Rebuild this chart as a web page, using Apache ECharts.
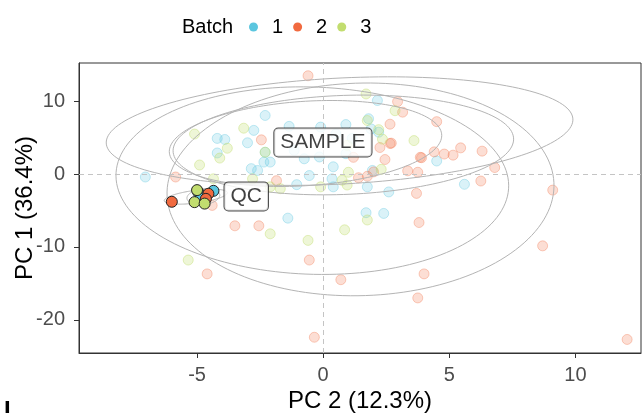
<!DOCTYPE html>
<html>
<head>
<meta charset="utf-8">
<script src="https://cdn.jsdelivr.net/npm/echarts@6/dist/echarts.min.js"></script>
<style>
html, body { margin: 0; padding: 0; background: #fff; }
#chart { width: 642px; height: 413px; }
</style>
</head>
<body>
<div id="chart"></div>
<script>
var batchNames = ['1', '2', '3'];
var batchColors = ['#5bc6df', '#f16a3f', '#c2dd6f'];
var sampleFill = ['rgba(91,198,223,0.28)', 'rgba(241,106,63,0.28)', 'rgba(194,221,111,0.35)'];
var sampleEdge = ['rgba(91,198,223,0.45)', 'rgba(241,106,63,0.40)', 'rgba(194,221,111,0.55)'];

// PC2 (x), PC1 (y) scores of the study samples, per batch
var sample1 = [[-4.2,4.9],[-3.9,4.75],[-2.75,6.0],[-3.0,4.3],[-4.2,2.9],[-2.3,8.05],[-2.35,1.65],[-2.85,0.75],[-2.6,0.5],[-7.05,-0.4],[-2.3,3.0],[-1.35,6.55],[-0.1,6.45],[0.9,6.8],[2.15,10.1],[1.8,7.6],[1.9,6.2],[2.2,5.75],[1.95,0.5],[1.75,-1.75],[2.6,-2.45],[0.4,1.0],[0.4,-1.75],[0.35,-0.65],[-0.15,2.35],[-0.75,2.1],[-1.15,3.25],[-0.55,-0.2],[-1.05,-1.45],[-2.1,1.65],[0.5,5.5],[0.9,2.8],[1.15,4.9],[4.5,1.8],[5.6,-1.4],[-1.4,-6.05],[1.7,-5.3],[2.4,-5.4]];
var sample2 = [[-2.45,4.7],[-5.85,-0.4],[-4.4,-4.3],[-0.6,13.5],[2.95,9.95],[3.15,8.5],[2.65,6.85],[2.65,4.2],[2.7,4.25],[2.25,3.65],[2.45,2.0],[1.2,2.3],[3.85,2.3],[3.9,2.25],[4.4,3.05],[4.5,7.2],[4.8,2.75],[5.15,2.6],[5.45,3.6],[6.3,3.15],[6.8,0.9],[6.25,-0.95],[9.1,-2.2],[3.7,-2.65],[3.35,0.45],[3.75,0.25],[1.4,-0.5],[1.75,-0.3],[2.0,0.3],[-1.85,-0.9],[-3.5,-7.1],[-2.55,-7.1],[-4.6,-13.7],[-0.55,-11.8],[0.7,-14.5],[3.8,-6.65],[4.0,-13.7],[3.75,-17.0],[-0.35,-22.4],[8.7,-9.85],[12.05,-22.7]];
var sample3 = [[-5.1,5.5],[-3.15,6.3],[-3.8,3.55],[-4.1,2.2],[-4.9,1.25],[-4.35,-0.65],[-2.8,-0.65],[1.7,11.0],[2.85,8.7],[1.75,7.35],[2.2,6.1],[2.35,4.8],[3.6,4.6],[2.3,0.65],[1.0,0.25],[0.75,-0.85],[-0.1,-1.75],[0.95,-1.5],[-1.7,-2.0],[0.95,3.95],[-2.3,3.0],[-5.35,-11.8],[-2.1,-8.2],[-0.6,-9.1],[0.85,-7.65],[1.75,-6.3],[-2.1,-1.75]];

// pooled QC injections, per batch
var qc1 = [[-4.95,-2.5],[-4.35,-2.3],[-4.85,-3.3]];
var qc2 = [[-6.0,-3.8],[-4.55,-2.7],[-4.65,-3.4]];
var qc3 = [[-5.1,-3.85],[-4.7,-4.05],[-5.0,-2.2]];

// group labels
var labelNames = ['SAMPLE', 'QC'];
var labelX = [-0.01, -3.05];
var labelY = [4.34, -3.06];

// confidence ellipses: centre, and two half-diameter vectors
var ellCx = [0.65, -0.43, 1.48, 0.8, -0.7, -5.05, -4.75];
var ellCy = [5.9, -0.9, -2.1, 4.0, 4.2, -3.1, -3.1];
var ellUx = [9.25, 7.68, 7.67, 6.75, 5.4, 1.25, 0.65];
var ellUy = [1.5, 1.4, 0.35, 0.8, 1.1, 0.5, 0.2];
var ellVx = [0.1, -1.27, 0.1, 0, 0, 0.05, 0];
var ellVy = [7.3, 12.8, 14.6, 6.8, 5.8, 0.9, 1.1];

var xTicks = [-5, 0, 5, 10];
var yTicks = [-20, -10, 0, 10];

var font = 'Liberation Sans, Arial, sans-serif';

var ellipseData = [];
for (var i = 0; i < ellCx.length; i++) {
  ellipseData.push([ellCx[i], ellCy[i], ellUx[i], ellUy[i], ellVx[i], ellVy[i]]);
}

function drawEllipse(params, api) {
  var cx = api.value(0), cy = api.value(1);
  var ux = api.value(2), uy = api.value(3), vx = api.value(4), vy = api.value(5);
  var pts = [];
  for (var k = 0; k <= 160; k++) {
    var t = k / 160 * Math.PI * 2;
    pts.push(api.coord([cx + ux * Math.cos(t) + vx * Math.sin(t), cy + uy * Math.cos(t) + vy * Math.sin(t)]));
  }
  return {
    type: 'polyline',
    shape: { points: pts },
    style: { stroke: '#b4b4b4', lineWidth: 1, fill: null }
  };
}

var samples = [sample1, sample2, sample3];
var qcs = [qc1, qc2, qc3];
var series = [];

for (var b = 0; b < 3; b++) {
  series.push({
    name: 'S' + batchNames[b],
    type: 'scatter',
    data: samples[b],
    symbolSize: 10,
    z: 2,
    itemStyle: { color: sampleFill[b], borderColor: sampleEdge[b], borderWidth: 1 }
  });
}

series.push({
  type: 'custom',
  renderItem: drawEllipse,
  data: ellipseData,
  clip: true,
  silent: true,
  z: 3,
  encode: { x: 0, y: 1 }
});

for (var b = 0; b < 3; b++) {
  series.push({
    name: batchNames[b],
    type: 'scatter',
    data: qcs[b],
    symbolSize: 11,
    z: 4,
    itemStyle: { color: batchColors[b], borderColor: '#222', borderWidth: 1, opacity: 1 }
  });
}

var labelData = [];
for (var i = 0; i < labelNames.length; i++) {
  labelData.push({ name: labelNames[i], value: [labelX[i], labelY[i]] });
}
series.push({
  type: 'scatter',
  data: labelData,
  symbolSize: 1,
  z: 5,
  silent: true,
  itemStyle: { color: 'transparent' },
  label: {
    show: true,
    position: 'inside',
    formatter: '{b}',
    fontFamily: font,
    fontSize: 21,
    color: '#111',
    backgroundColor: '#fff',
    borderColor: '#222',
    borderWidth: 1,
    borderRadius: 4,
    padding: [4, 6, 3, 6]
  }
});

// dashed zero lines
series[0].markLine = {
  silent: true,
  symbol: 'none',
  label: { show: false },
  lineStyle: { color: '#c4c4c4', type: [5, 4], width: 1 },
  data: [{ xAxis: 0 }, { yAxis: 0 }]
};

var chart = echarts.init(document.getElementById('chart'));

chart.setOption({
  animation: false,
  backgroundColor: '#fff',
  grid: {
    left: 79, right: 1, top: 63, bottom: 60,
    outerBoundsMode: 'none',
    show: true, borderColor: '#333', borderWidth: 1
  },
  graphic: [{
    type: 'text', left: 182, top: 17,
    style: { text: 'Batch', fontSize: 20, fontFamily: font, fill: '#000' }
  }, {
    type: 'text', left: 4, top: 399,
    style: { text: 'I', fontSize: 24, fontWeight: 'bold', fontFamily: font, fill: '#000' }
  }],
  legend: {
    data: batchNames.map(function (n) { return { name: n, itemStyle: { borderWidth: 0 } }; }),
    left: 244, top: 12,
    icon: 'circle', itemWidth: 9, itemHeight: 9, itemGap: 10,
    textStyle: { fontSize: 20, fontFamily: font, color: '#000', padding: [6, 0, 0, 9] }
  },
  xAxis: {
    type: 'value',
    min: -9.68, max: 12.6,
    name: 'PC 2 (12.3%)',
    nameLocation: 'middle', nameGap: 36,
    nameMoveOverlap: false,
    nameTextStyle: { fontSize: 24, fontFamily: font, color: '#000' },
    axisLine: { onZero: false, lineStyle: { color: '#333', width: 1 } },
    axisTick: { show: true, length: 5, customValues: xTicks, lineStyle: { color: '#333' } },
    axisLabel: { customValues: xTicks, fontSize: 20, fontFamily: font, color: '#4d4d4d', margin: 12 },
    splitLine: { show: false }
  },
  yAxis: {
    type: 'value',
    min: -24.56, max: 15.25,
    name: 'PC 1 (36.4%)',
    nameLocation: 'middle', nameGap: 42,
    nameMoveOverlap: false,
    nameTextStyle: { fontSize: 24, fontFamily: font, color: '#000' },
    axisLine: { onZero: false, lineStyle: { color: '#333', width: 1 } },
    axisTick: { show: true, length: 5, customValues: yTicks, lineStyle: { color: '#333' } },
    axisLabel: { customValues: yTicks, fontSize: 20, fontFamily: font, color: '#4d4d4d', margin: 14 },
    splitLine: { show: false }
  },
  series: series
});
</script>
</body>
</html>
